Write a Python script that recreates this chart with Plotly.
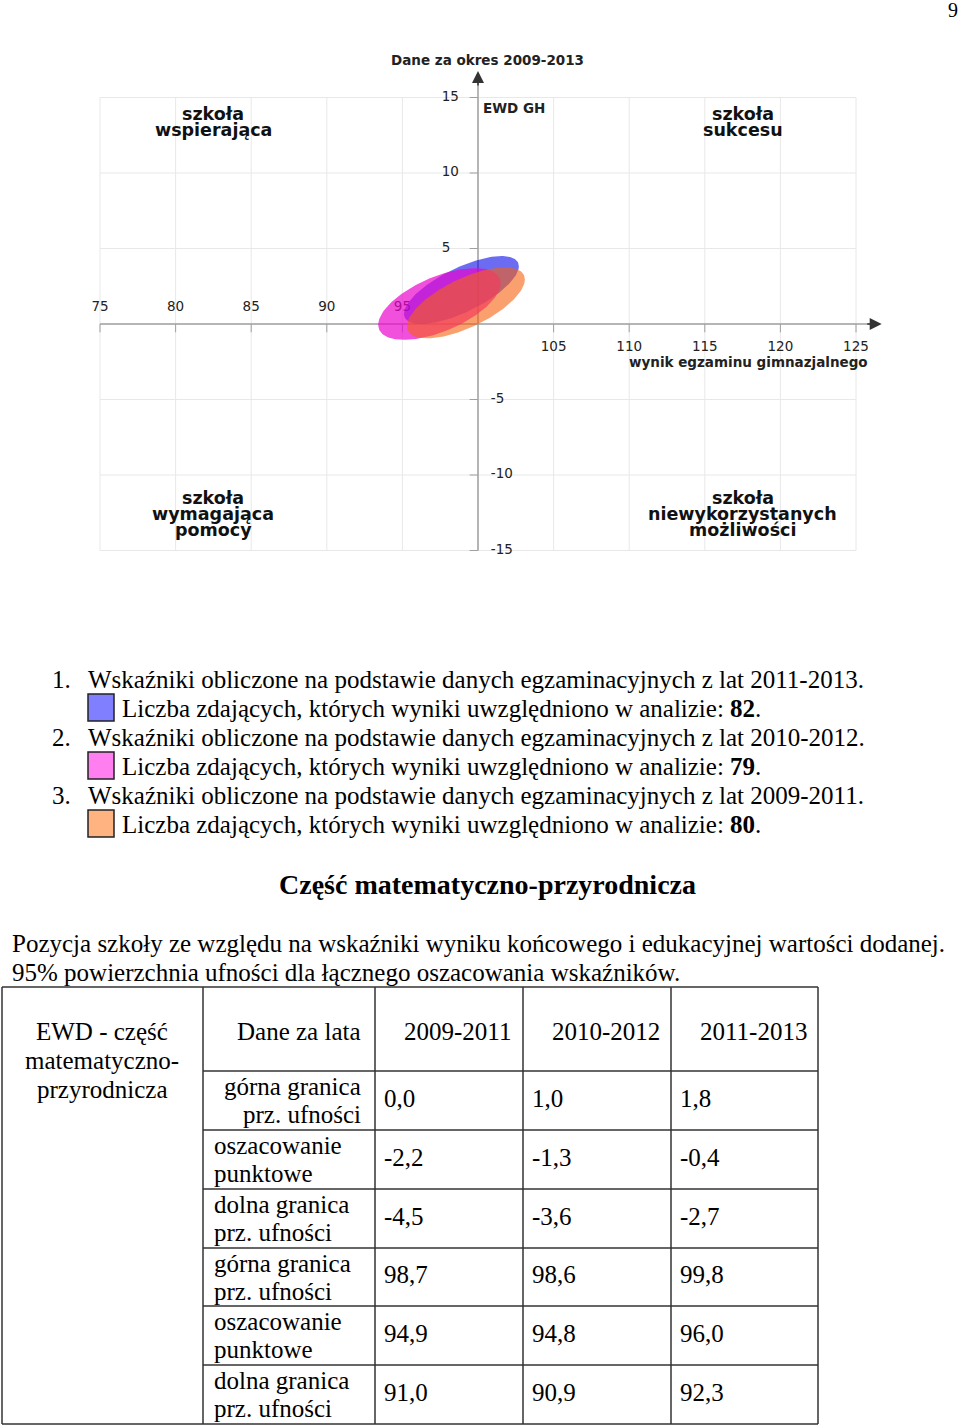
import numpy as np
import plotly.graph_objects as go

# %% dane wykresu

okresy = ["2011-2013", "2010-2012", "2009-2011"]
kolory = ["rgba(10,10,235,0.6)", "rgba(234,5,205,0.7)", "rgba(247,97,13,0.6)"]
kolory_legendy = ["#7f7fff", "#ff7ff0", "#ffb380"]
liczba_zdajacych = [82, 79, 80]

# granice elips: wynik egzaminu (x) i EWD (y) oraz korelacja
wynik_dolna = [95.1, 93.4, 95.3]
wynik_gorna = [102.7, 101.5, 103.1]
ewd_dolna = [0.0, -1.05, -0.95]
ewd_gorna = [4.5, 3.7, 3.75]
korelacja = [0.70, 0.58, 0.66]

x_ticks = [75, 80, 85, 90, 95, 105, 110, 115, 120, 125]
y_ticks = [15, 10, 5, -5, -10, -15]
x_grid = [75, 80, 85, 90, 95, 100, 105, 110, 115, 120, 125]
y_grid = [-15, -10, -5, 0, 5, 10, 15]

# %% dane tabeli

lata = ["2009-2011", "2010-2012", "2011-2013"]
wiersze = ["górna granica<br>prz. ufności", "oszacowanie<br>punktowe",
           "dolna granica<br>prz. ufności"] * 2
wartosci = {
    "2009-2011": [0.0, -2.2, -4.5, 98.7, 94.9, 91.0],
    "2010-2012": [1.0, -1.3, -3.6, 98.6, 94.8, 90.9],
    "2011-2013": [1.8, -0.4, -2.7, 99.8, 96.0, 92.3],
}

W, H = 960, 1426
SERIF = "Liberation Serif"
SANS = "DejaVu Sans"
FS = 25  # tekst strony

# skala wykresu w pikselach strony
X0_PX, Y0_PX = 478, 324      # punkt (100, 0)
SX, SY = 15.12, 15.1         # px na jednostkę
x_range = [74, 127.5]
y_range = [-16, 17.2]
dom_x = [(X0_PX + (x_range[0] - 100) * SX) / W, (X0_PX + (x_range[1] - 100) * SX) / W]
dom_y = [1 - (Y0_PX - y_range[0] * SY) / H, 1 - (Y0_PX - y_range[1] * SY) / H]

fig = go.Figure()

# etykiety osi pod elipsami (jak w oryginale: "95" prześwituje)
tick_font = dict(family=SANS, size=13.5, color="#222")
fig.add_scatter(x=[t for t in x_ticks if t < 100], y=[1.1] * 5, mode="text",
                text=[str(t) for t in x_ticks if t < 100], textposition="middle center",
                textfont=tick_font, hoverinfo="skip")
fig.add_scatter(x=[t for t in x_ticks if t > 100], y=[-1.55] * 5, mode="text",
                text=[str(t) for t in x_ticks if t > 100], textposition="middle center",
                textfont=tick_font, hoverinfo="skip")
fig.add_scatter(x=[97.6] * 3, y=[t for t in y_ticks if t > 0], mode="text",
                text=[str(t) for t in y_ticks if t > 0], textposition="middle right",
                textfont=tick_font, hoverinfo="skip")
fig.add_scatter(x=[100.85] * 3, y=[t for t in y_ticks if t < 0], mode="text",
                text=[str(t) for t in y_ticks if t < 0], textposition="middle right",
                textfont=tick_font, hoverinfo="skip")

# elipsy ufności
t = np.linspace(0, 2 * np.pi, 200)
for i in range(len(okresy)):
    cx = (wynik_dolna[i] + wynik_gorna[i]) / 2
    ax = (wynik_gorna[i] - wynik_dolna[i]) / 2
    cy = (ewd_dolna[i] + ewd_gorna[i]) / 2
    ay = (ewd_gorna[i] - ewd_dolna[i]) / 2
    r = korelacja[i]
    ex = cx + ax * np.cos(t)
    ey = cy + ay * (r * np.cos(t) + np.sqrt(1 - r ** 2) * np.sin(t))
    fig.add_scatter(x=ex, y=ey, mode="lines", fill="toself", fillcolor=kolory[i],
                    line=dict(width=0), name=okresy[i], hoverinfo="skip")

# wartości tabeli (oś strony x2/y2)
col_edges = [2, 203, 375, 523, 671, 818]
row_edges = [987, 1071, 1130, 1189, 1248, 1306, 1365, 1424]
tx, ty, tt = [], [], []
for j, rok in enumerate(lata):
    for k, v in enumerate(wartosci[rok]):
        tx.append(col_edges[j + 2] + 9)
        ty.append((row_edges[k + 1] + row_edges[k + 2]) / 2)
        tt.append(f"{v:.1f}".replace(".", ","))
fig.add_scatter(x=tx, y=ty, text=tt, mode="text", textposition="middle right",
                textfont=dict(family=SERIF, size=FS, color="black"),
                xaxis="x2", yaxis="y2", hoverinfo="skip")

shapes = []
# siatka
for g in x_grid:
    shapes.append(dict(type="line", x0=g, x1=g, y0=-15, y1=15, xref="x", yref="y",
                       line=dict(color="#e8e8e8", width=1), layer="below"))
for g in y_grid:
    shapes.append(dict(type="line", x0=75, x1=125, y0=g, y1=g, xref="x", yref="y",
                       line=dict(color="#e8e8e8", width=1), layer="below"))
# osie
shapes.append(dict(type="line", x0=75, x1=126.3, y0=0, y1=0, xref="x", yref="y",
                   line=dict(color="#a0a0a0", width=1.5), layer="below"))
shapes.append(dict(type="line", x0=100, x1=100, y0=-15, y1=16.4, xref="x", yref="y",
                   line=dict(color="#a0a0a0", width=1.5), layer="below"))
for g in x_ticks:
    shapes.append(dict(type="line", x0=g, x1=g, y0=0, y1=-0.55, xref="x", yref="y",
                       line=dict(color="#a0a0a0", width=1), layer="below"))
for g in y_ticks:
    shapes.append(dict(type="line", x0=99.45, x1=100, y0=g, y1=g, xref="x", yref="y",
                       line=dict(color="#a0a0a0", width=1), layer="below"))

# tabela
for c in col_edges:
    shapes.append(dict(type="line", x0=c, x1=c, y0=row_edges[0], y1=row_edges[-1],
                       xref="x2", yref="y2", line=dict(color="#333", width=1.5)))
for k, r_ in enumerate(row_edges):
    x_left = col_edges[0] if k in (0, len(row_edges) - 1) else col_edges[1]
    shapes.append(dict(type="line", x0=x_left, x1=col_edges[-1], y0=r_, y1=r_,
                       xref="x2", yref="y2", line=dict(color="#333", width=1.5)))

# legenda – kwadraty
leg_y = [708, 766, 824]
for i in range(3):
    shapes.append(dict(type="rect", x0=88, x1=114, y0=leg_y[i] - 14, y1=leg_y[i] + 13,
                       xref="x2", yref="y2", fillcolor=kolory_legendy[i],
                       line=dict(color="#222", width=1.5)))

ann = []


def txt(x, y, s, size, family=SERIF, xa="left", align="left", ref="x2", color="black"):
    ann.append(dict(x=x, y=y, text=s, xref=ref, yref=ref.replace("x", "y"), showarrow=False,
                    xanchor=xa, yanchor="middle", align=align,
                    font=dict(family=family, size=size, color=color)))


# teksty wykresu
txt(487, 60, "<b>Dane za okres 2009-2013</b>", 13.5, SANS, "center", "center", color="#222")
txt(100.2, 14.3, "<b>EWD GH</b>", 13.5, SANS, ref="x", color="#222")
txt(125.95, -2.52, "<b>wynik egzaminu gimnazjalnego</b>", 13.5, SANS, "right", ref="x", color="#222")
kwadranty = [
    (82.5, 13.9, ["szkoła", "wspierająca"]),
    (117.5, 13.9, ["szkoła", "sukcesu"]),
    (82.5, -11.5, ["szkoła", "wymagająca", "pomocy"]),
    (117.5, -11.5, ["szkoła", "niewykorzystanych", "możliwości"]),
]
for qx, qy, linie in kwadranty:
    for n, s in enumerate(linie):
        txt(qx, qy - n * 1.06, f"<b>{s}</b>", 17.5, SANS, "center", "center", ref="x", color="#111")

# strona
txt(953, 10, "9", 20, xa="center")
opisy = [
    ("1.", "Wskaźniki obliczone na podstawie danych egzaminacyjnych z lat 2011-2013."),
    ("2.", "Wskaźniki obliczone na podstawie danych egzaminacyjnych z lat 2010-2012."),
    ("3.", "Wskaźniki obliczone na podstawie danych egzaminacyjnych z lat 2009-2011."),
]
for i, (nr, s) in enumerate(opisy):
    txt(50, leg_y[i] - 29, nr, FS)
    txt(86, leg_y[i] - 29, s, FS)
    txt(120, leg_y[i],
        f"Liczba zdających, których wyniki uwzględniono w analizie: <b>{liczba_zdajacych[i]}</b>.", FS)

txt(487, 884, "<b>Część matematyczno-przyrodnicza</b>", 28, xa="center", align="center")
txt(10, 943, "Pozycja szkoły ze względu na wskaźniki wyniku końcowego i edukacyjnej wartości dodanej.", FS)
txt(10, 972, "95% powierzchnia ufności dla łącznego oszacowania wskaźników.", FS)

# nagłówki tabeli
for n, s in enumerate(["EWD - część", "matematyczno-", "przyrodnicza"]):
    txt(102, 1031 + n * 29, s, FS, xa="center", align="center")
txt(363, 1031, "Dane za lata", FS, xa="right", align="right")
for j, rok in enumerate(lata):
    txt(col_edges[j + 2] + 27, 1031, rok, FS)
for k, w in enumerate(wiersze):
    yc = (row_edges[k + 1] + row_edges[k + 2]) / 2
    for n, s in enumerate(w.split("<br>")):
        if k == 0:
            txt(363, yc - 14 + n * 28, s, FS, xa="right", align="right")
        else:
            txt(212, yc - 14 + n * 28, s, FS)

# strzałki osi
ann.append(dict(x=126.7, y=0, xref="x", yref="y", ax=-16, ay=0, showarrow=True,
                arrowhead=2, arrowsize=1.6, arrowwidth=1.5, arrowcolor="#333", text=""))
ann.append(dict(x=100, y=16.75, xref="x", yref="y", ax=0, ay=16, showarrow=True,
                arrowhead=2, arrowsize=1.6, arrowwidth=1.5, arrowcolor="#333", text=""))

fig.update_layout(
    width=W, height=H, margin=dict(l=0, r=0, t=0, b=0),
    paper_bgcolor="white", plot_bgcolor="rgba(0,0,0,0)",
    showlegend=False, shapes=shapes, annotations=ann,
    xaxis=dict(domain=dom_x, range=x_range, visible=False, fixedrange=True),
    yaxis=dict(domain=dom_y, range=y_range, visible=False, fixedrange=True),
    xaxis2=dict(domain=[0, 1], range=[0, W], visible=False, anchor="y2", fixedrange=True),
    yaxis2=dict(domain=[0, 1], range=[H, 0], visible=False, anchor="x2", fixedrange=True),
)

fig.write_html("out.html", config={"displayModeBar": False},
               post_script="document.body.style.margin='0';")
